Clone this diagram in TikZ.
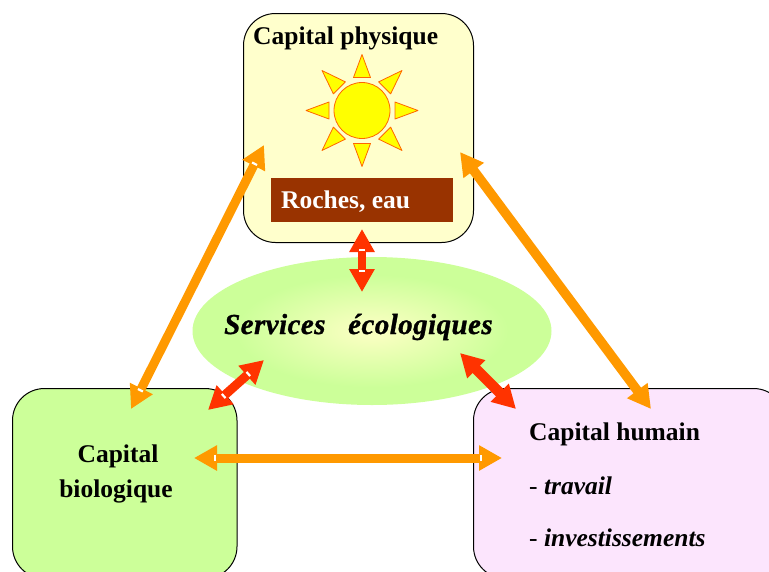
\documentclass[tikz,border=0pt]{standalone}
\usepackage{fontspec}
\setmainfont{Liberation Serif}
\newfontfamily\svcfont{Liberation Serif}[UprightFont=* Bold Italic,FakeBold=1,LetterSpace=1.5]
\usetikzlibrary{arrows.meta,shapes.geometric,calc}
\definecolor{orangeA}{HTML}{FF9900}
\definecolor{redA}{HTML}{FF3300}
\definecolor{rayA}{HTML}{FF6600}
\definecolor{sunA}{HTML}{FFFF00}
\definecolor{brownA}{HTML}{993300}
\definecolor{yellowA}{HTML}{FFFFCC}
\definecolor{greenA}{HTML}{CCFF99}
\definecolor{pinkA}{HTML}{FCE5FD}
\definecolor{ellIn}{HTML}{F8FFC0}
\pgfdeclareradialshading{ellshade}{\pgfpoint{0bp}{0bp}}{%
  color(0bp)=(ellIn); color(2bp)=(ellIn); color(19bp)=(greenA); color(50bp)=(greenA)}
\tikzset{
  x=1pt,y=-1pt,
  capbox/.style={draw=black,line width=1pt,rounded corners=32pt,anchor=north west,inner sep=0pt},
  lab/.style={font=\fontsize{25.5}{30}\selectfont\bfseries,anchor=base west,inner sep=0pt,text=black},
  itlab/.style={font=\fontsize{25.5}{30}\selectfont\bfseries\itshape,anchor=base west,inner sep=0pt,text=black},
  headtip/.style={{Triangle[length=23pt,width=24pt]}-{Triangle[length=23pt,width=24pt]}},
  bigarrow/.style={draw=orangeA,line width=9pt,headtip},
  smallarrow/.style={draw=redA,line width=8.5pt,headtip},
  ray/.style={draw=rayA,fill=sunA,line width=0.8pt,line join=round},
  necktick/.style={fill=white,inner sep=0pt,minimum width=2.2pt,minimum height=5.5pt,sloped,allow upside down}
}
\newcommand{\necks}[2]{%
  \path ($(#1)!21pt!(#2)$) -- ($(#2)!21pt!(#1)$)
    node[necktick,pos=0] {} node[necktick,pos=1] {};}
\begin{document}
\begin{tikzpicture}
\useasboundingbox (0,0) rectangle (769,571);
% ellipse
\node[ellipse,minimum width=359pt,minimum height=148pt,inner sep=0pt,shading=ellshade] (svc) at (372,331) {};
% boxes
\node[capbox,fill=yellowA,minimum width=230pt,minimum height=229pt] (phys) at (243,13) {};
\node[capbox,fill=greenA,minimum width=224.5pt,minimum height=190pt] (bio) at (12,388) {};
\node[capbox,fill=pinkA,minimum width=312pt,minimum height=190pt] (hum) at (473,388) {};
% brown box
\node[fill=brownA,minimum width=182pt,minimum height=44pt,inner sep=0pt,anchor=north west] (roches) at (271,178) {};
\node[lab,text=white] (rochest) at (281,208.5) {Roches, eau};
% sun
\node[circle,ray,minimum size=56pt,inner sep=0pt] (sun) at (362,110.5) {};
\foreach \a in {0,90,180,270}{
  \draw[ray,shift={(sun.center)},rotate=\a] (33,-8.5) -- (56,0) -- (33,8.5) -- cycle;
}
\foreach \a in {45,135,225,315}{
  \draw[ray,shift={(sun.center)},rotate=\a] (32,-8.5) -- (56.5,0) -- (32,8.5) -- cycle;
}
% texts
\node[lab] (tphys) at (253,44.5) {Capital physique};
\node[font=\svcfont\fontsize{29}{32}\selectfont,anchor=base west,inner sep=0pt] (tsvc) at (224,334) {Services\hspace{15pt} écologiques};
\node[lab,anchor=base] (tbio) at (118,462.5) {Capital};
\node[lab,anchor=base] (tbio2) at (116,497.5) {biologique};
\node[lab] (thum) at (529,440.5) {Capital humain};
\node[itlab] (ttrav) at (529,494) {\textup{\mdseries -} travail};
\node[itlab] (tinv) at (529,546.5) {\textup{\mdseries -} investissements};
% connector ends
\coordinate (pbl) at (264,145);
\coordinate (bt) at (131,409);
\coordinate (pbr) at (460,152);
\coordinate (ht) at (651,409);
\coordinate (br) at (194,458);
\coordinate (hl) at (502,458);
\coordinate (rb) at (362,229);
\coordinate (st) at (362,292);
\coordinate (sbl) at (264,360);
\coordinate (btr) at (208,410);
\coordinate (sbr) at (460,353);
\coordinate (htl) at (516,409);
% connectors
\draw[bigarrow] (pbl) -- (bt);
\draw[bigarrow,line width=9.5pt] (pbr) -- (ht);
\draw[bigarrow] (br) -- (hl);
\draw[smallarrow] (rb) -- (st);
\draw[smallarrow,line width=9pt] (sbl) -- (btr);
\draw[smallarrow,line width=10.5pt] (sbr) -- (htl);
\necks{pbl}{bt}
\necks{br}{hl}
\necks{rb}{st}
\necks{sbl}{btr}
\end{tikzpicture}
\end{document}
